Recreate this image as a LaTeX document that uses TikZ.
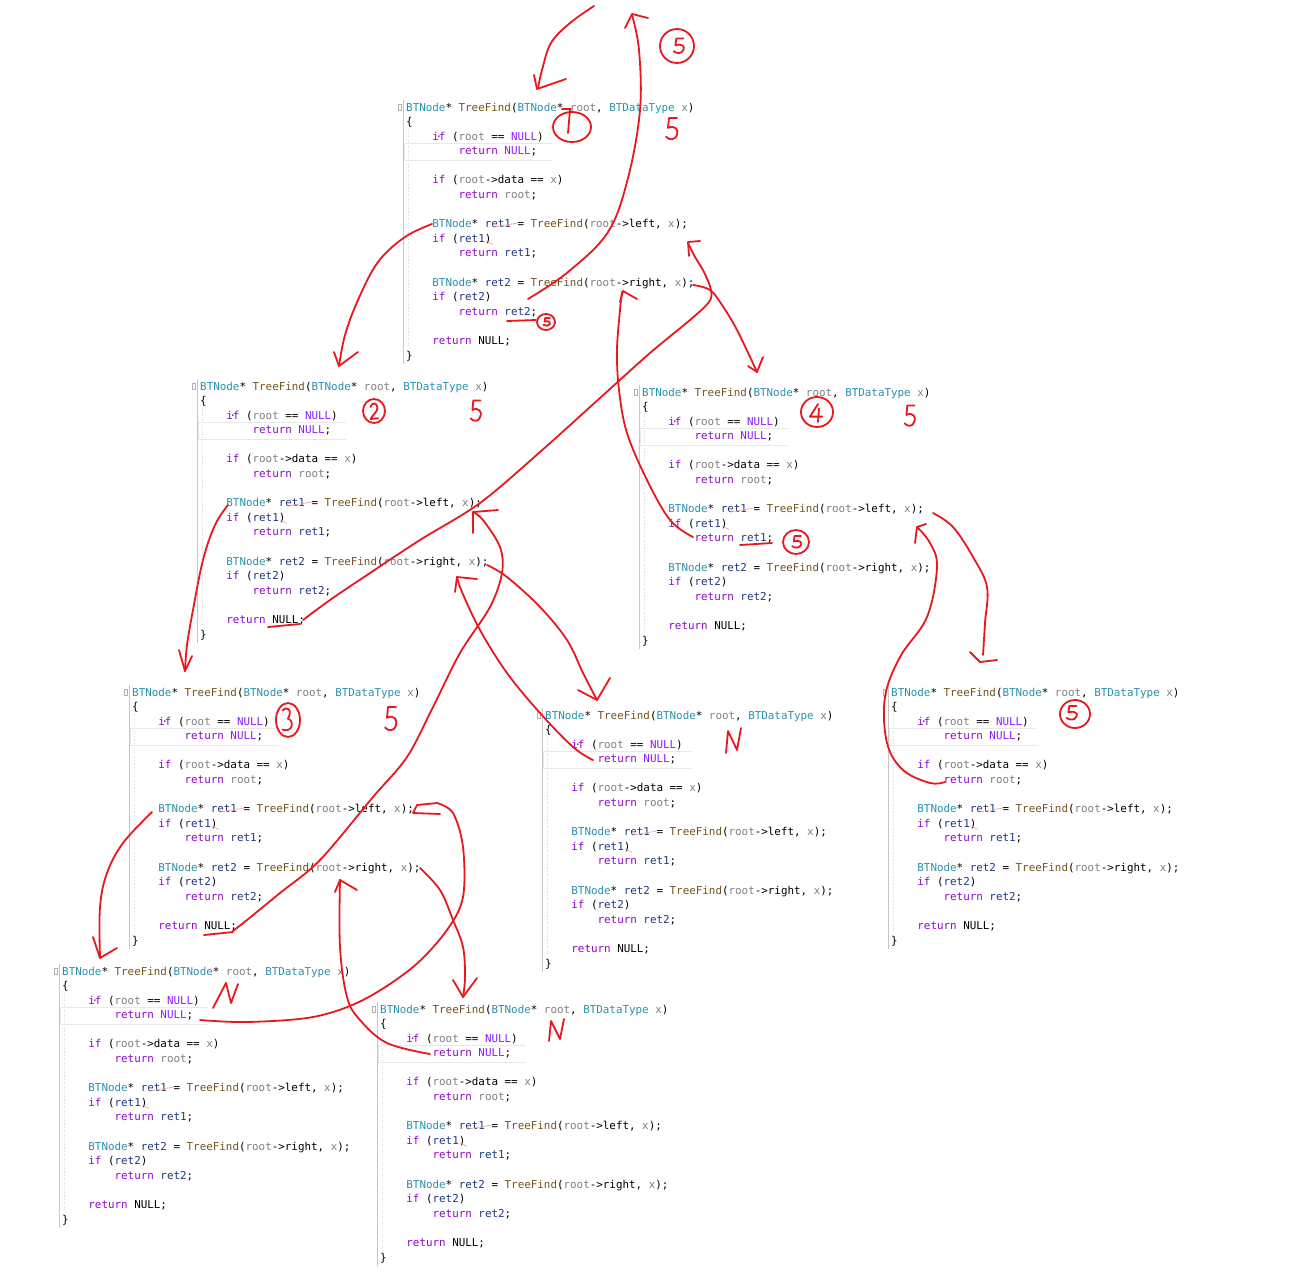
\documentclass[tikz,border=0pt]{standalone}
\usepackage{fontspec}
\newfontfamily\codefont{DejaVu Sans Mono}
\definecolor{cty}{HTML}{2B91AF}
\definecolor{cfn}{HTML}{74531F}
\definecolor{cpr}{HTML}{808080}
\definecolor{ckw}{HTML}{8F08C4}
\definecolor{cmc}{HTML}{8A1BFF}
\definecolor{clc}{HTML}{1F377F}
\definecolor{ink}{RGB}{232,24,30}
\definecolor{pinkish}{RGB}{240,150,150}
\newcommand\kT[1]{\textcolor{cty}{#1}}
\newcommand\kF[1]{\textcolor{cfn}{#1}}
\newcommand\kP[1]{\textcolor{cpr}{#1}}
\newcommand\kK[1]{\textcolor{ckw}{#1}}
\newcommand\kM[1]{\textcolor{cmc}{#1}}
\newcommand\kL[1]{\textcolor{clc}{#1}}
\tikzset{
  code/.style={anchor=base west, inner sep=0pt, font=\codefont\fontsize{10.88}{13}\selectfont},
  gutter/.style={draw=gray!45, line width=0.7pt},
  guide/.style={draw=gray!30, line width=0.4pt, dotted},
  foldbox/.style={draw=gray!60, line width=0.4pt},
  selbox/.style={draw=gray!18, line width=0.7pt},
  squig/.style={draw=pinkish, line width=0.6pt},
  inkline/.style={draw=ink, line width=1.8pt, line cap=round, line join=round},
  hfive/.pic={\draw[inkline] (5,-10) -- (-3,-10) -- (-4,-1) .. controls (3,-4) and (7,1) .. (5,5) .. controls (3,11) and (-3,10) .. (-6,7);},
  htwo/.pic={\draw[inkline] (-5,-5) .. controls (-4,-11) and (5,-11) .. (5,-4) .. controls (5,1) and (-2,5) .. (-5,10) -- (6,9);},
  hthree/.pic={\draw[inkline] (-5,-8) .. controls (-1,-12) and (7,-9) .. (1,-1) .. controls (8,0) and (7,11) .. (-5,8);},
  hfour/.pic={\draw[inkline] (2,-10) -- (-6,4) -- (6,4) (3,-5) -- (2,10);},
}
\newcommand\codeblock[3]{%
\begin{scope}[shift={(#2,#3)}]
\draw[gutter] (-3,-7) -- (-3,257);
\draw[guide] (2,22) -- (2,240);
\draw[foldbox] (-7.5,-3) rectangle (-4.5,3);
\draw[selbox] (-2,36.5) -- (146,36.5) (-2,53) -- (146,53) (-2,36.5) -- (-2,53);
\node[code] (#1-0) at (0,4) {\kT{BTNode}* \kF{TreeFind}(\kT{BTNode}* \kP{root}, \kT{BTDataType} \kP{x})};
\node[code] (#1-1) at (0,18.59) {\{};
\node[code] (#1-2) at (26.2,33.18) {\kK{i\makebox[0pt]{·}f} (\kP{root} == \kM{NULL})};
\node[code] (#1-3) at (52.4,47.77) {\kK{return} \kM{NULL};};
\node[code] (#1-5) at (26.2,76.95) {\kK{if} (\kP{root}->data == \kP{x})};
\node[code] (#1-6) at (52.4,91.54) {\kK{return} \kP{root};};
\node[code] (#1-8) at (26.2,120.72) {\kT{BTNode}* \kL{ret1} = \kF{TreeFind}(\kP{root}->left, \kP{x});};
\node[code] (#1-9) at (26.2,135.31) {\kK{if} (\kL{ret1})};
\node[code] (#1-10) at (52.4,149.9) {\kK{return} \kL{ret1};};
\node[code] (#1-12) at (26.2,179.08) {\kT{BTNode}* \kL{ret2} = \kF{TreeFind}(\kP{root}->right, \kP{x});};
\node[code] (#1-13) at (26.2,193.67) {\kK{if} (\kL{ret2})};
\node[code] (#1-14) at (52.4,208.26) {\kK{return} \kL{ret2};};
\node[code] (#1-16) at (26.2,237.44) {\kK{return} NULL;};
\node[code] (#1-17) at (0,252.03) {\}};
\draw[squig] (88,120) -- (112,116);
\draw[squig] (80,134) -- (87,137.5);
\end{scope}}
\begin{document}
\begin{tikzpicture}[x=1pt,y=-1pt]
\fill[white] (0,0) rectangle (1316,1283);
\useasboundingbox (0,0) rectangle (1316,1283);

% code blocks
\codeblock{ba}{406}{107}
\codeblock{bb}{200}{386}
\codeblock{bd}{642}{392}
\codeblock{bc}{132}{692}
\codeblock{bm}{545}{715}
\codeblock{be}{891}{692}
\codeblock{bl}{62}{971}
\codeblock{br}{380}{1009}

% ---- red annotations ----
% incoming call
\draw[inkline] plot[smooth, tension=0.6] coordinates {(594,6) (570,23) (551,43) (542,70) (538,88)};
\draw[inkline] (534,75) -- (537,89) -- (566,79);
% final return
\draw[inkline] plot[smooth, tension=0.6] coordinates {(528,299) (568,272) (608,232) (628,178) (640,110) (639,50) (632,15)};
\draw[inkline] (625,28) -- (632,14) -- (648,18);
\draw[inkline] (677,46) ellipse [x radius=17, y radius=17];
\pic[xscale=0.9, yscale=0.75] at (679,46) {hfive};

% block 1 marks
\draw[inkline] (572,127) ellipse [x radius=19, y radius=15];
\draw[inkline] (562,109) -- (571,109) (570,110) -- (568,133);
\pic[xscale=1, yscale=1.1] at (672,129) {hfive};
\draw[inkline] (507,321) -- (536,320);
\draw[inkline] (546,322) ellipse [x radius=9, y radius=8];
\pic[xscale=0.6, yscale=0.4] at (547,322) {hfive};

% B1 -> B2
\draw[inkline] plot[smooth, tension=0.6] coordinates {(432,224) (405,237) (378,262) (358,300) (345,335) (339,366)};
\draw[inkline] (334,352) -- (339,366) -- (358,352);
% B1 -> B4
\draw[inkline] plot[smooth, tension=0.6] coordinates {(693,285) (710,290) (722,305) (737,330) (757,372)};
\draw[inkline] (748,366) -- (757,372) -- (763,357);
% B2 return -> B1 ret1
\draw[inkline] (268,627) -- (300,624);
\draw[inkline] plot[smooth, tension=0.55] coordinates {(303,620) (330,600) (370,573) (420,540) (480,503) (540,452) (600,398) (650,353) (690,320) (709,302) (711,290) (704,272) (695,257) (688,243)};
\draw[inkline] (689,256) -- (688,242) -- (700,241);
% B4 return -> B1 ret2
\draw[inkline] (740,545) -- (772,543);
\draw[inkline] plot[smooth, tension=0.6] coordinates {(693,537) (670,520) (647,480) (627,433) (619,390) (617,350) (620,310) (622,292)};
\draw[inkline] (620,302) -- (623,291) -- (637,299);

% block 2 marks
\draw[inkline] (374,411) ellipse [x radius=11, y radius=12];
\pic[xscale=0.7, yscale=0.8] at (374,411) {htwo};
\pic[xscale=0.9, yscale=1.05] at (476,411) {hfive};

% block 4 marks
\draw[inkline] (817,412) ellipse [x radius=16, y radius=15];
\pic[xscale=1, yscale=0.9] at (816,413) {hfour};
\pic[xscale=0.9, yscale=1.05] at (910,416) {hfive};
\draw[inkline] (796,542) ellipse [x radius=13, y radius=12];
\pic[xscale=0.8, yscale=0.6] at (797,542) {hfive};

% B2 -> B3
\draw[inkline] plot[smooth, tension=0.6] coordinates {(228,505) (215,525) (203,560) (193,610) (187,645) (185,671)};
\draw[inkline] (179,650) -- (185,671) -- (192,656);
% B2 -> middle N
\draw[inkline] plot[smooth, tension=0.6] coordinates {(487,565) (507,577) (540,607) (567,640) (583,673) (597,700)};
\draw[inkline] (578,690) -- (597,700) -- (610,678);
% B3 return -> B2 ret1
\draw[inkline] (204,935) -- (233,932);
\draw[inkline] plot[smooth, tension=0.55] coordinates {(233,931) (247,920) (280,893) (320,860) (373,797) (407,757) (433,707) (460,653) (490,607) (502,573) (500,547) (483,520) (473,512)};
\draw[inkline] (473,533) -- (473,512) -- (498,510);
% middle N return -> B2 ret2
\draw[inkline] plot[smooth, tension=0.6] coordinates {(593,760) (573,747) (540,713) (507,673) (480,630) (462,592) (457,577)};
\draw[inkline] (455,592) -- (457,577) -- (477,579);

% block 3 marks
\draw[inkline] (288,720) ellipse [x radius=12, y radius=17];
\pic[xscale=0.9, yscale=1.2] at (287,720) {hthree};
\pic[xscale=1, yscale=1.2] at (391,719) {hfive};

% B3 -> bottom-left N
\draw[inkline] plot[smooth, tension=0.6] coordinates {(152,812) (123,843) (107,873) (100,907) (100,957)};
\draw[inkline] (93,937) -- (100,958) -- (117,948);
% B3 -> bottom-middle N
\draw[inkline] plot[smooth, tension=0.6] coordinates {(420,868) (440,890) (453,920) (463,947) (465,977) (463,997)};
\draw[inkline] (453,980) -- (463,997) -- (477,978);
% bottom-left N return -> B3 ret1
\draw[inkline] plot[smooth, tension=0.55] coordinates {(200,1020) (247,1022) (313,1017) (363,1000) (413,967) (447,930) (463,897) (463,847) (453,813) (437,803)};
\draw[inkline] (437,803) -- (417,805) -- (413,813) -- (440,814);
% bottom-middle N return -> B3 ret2
\draw[inkline] plot[smooth, tension=0.6] coordinates {(430,1054) (387,1043) (360,1020) (347,997) (340,947) (340,880)};
\draw[inkline] (335,892) -- (340,880) -- (357,890);

% B4 -> B5
\draw[inkline] plot[smooth, tension=0.6] coordinates {(933,513) (953,527) (973,557) (987,587) (985,623) (983,655)};
\draw[inkline] (970,652) -- (980,662) -- (997,660);
% B5 return -> B4 ret1
\draw[inkline] plot[smooth, tension=0.6] coordinates {(945,782) (930,783) (903,770) (887,743) (885,697) (900,657) (927,617) (937,567) (930,543) (917,527)};
\draw[inkline] (915,543) -- (917,527) -- (926,524);
% block 5 mark
\draw[inkline] (1075,714) ellipse [x radius=15, y radius=14];
\pic[xscale=0.9, yscale=0.7] at (1072,713) {hfive};

% N marks
\draw[inkline] (726,753) -- (728,731) -- (737,750) -- (741,728);
\draw[inkline] (213,1008) -- (226,983) -- (231,1003) -- (238,984);
\draw[inkline] (549,1041) -- (551,1021) -- (560,1039) -- (564,1019);
\end{tikzpicture}
\end{document}
